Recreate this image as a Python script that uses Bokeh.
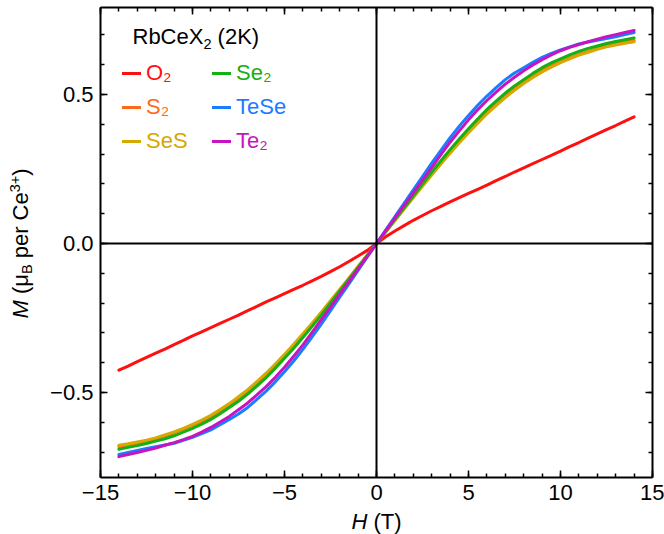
import math
from bokeh.plotting import figure
from bokeh.models import (Range1d, LinearAxis, SingleIntervalTicker, CustomJSTickFormatter,
                          Label, Legend, LegendItem)
from bokeh.embed import file_html
from bokeh.resources import INLINE

# ---------------- data ----------------
field_T = [-14.0, -13.5, -13.0, -12.5, -12.0, -11.5, -11.0, -10.5, -10.0, -9.5, -9.0, -8.5, -8.0, -7.5,
           -7.0, -6.5, -6.0, -5.5, -5.0, -4.5, -4.0, -3.5, -3.0, -2.5, -2.0, -1.5, -1.0, -0.5, 0.0,
           0.5, 1.0, 1.5, 2.0, 2.5, 3.0, 3.5, 4.0, 4.5, 5.0, 5.5, 6.0, 6.5, 7.0,
           7.5, 8.0, 8.5, 9.0, 9.5, 10.0, 10.5, 11.0, 11.5, 12.0, 12.5, 13.0, 13.5, 14.0]

M_O2 = [-0.425, -0.411, -0.396, -0.382, -0.368, -0.354, -0.339, -0.325, -0.310, -0.296, -0.282, -0.268, -0.254, -0.240,
        -0.225, -0.211, -0.196, -0.182, -0.168, -0.154, -0.140, -0.125, -0.110, -0.094, -0.078, -0.060, -0.042, -0.023, 0.0,
        0.023, 0.042, 0.060, 0.078, 0.094, 0.110, 0.125, 0.140, 0.154, 0.168, 0.182, 0.196, 0.211, 0.225,
        0.240, 0.254, 0.268, 0.282, 0.296, 0.310, 0.325, 0.339, 0.354, 0.368, 0.382, 0.396, 0.411, 0.425]
M_S2 = [-0.681, -0.676, -0.670, -0.664, -0.655, -0.645, -0.635, -0.623, -0.610, -0.596, -0.580, -0.562, -0.542, -0.519,
        -0.495, -0.468, -0.440, -0.409, -0.376, -0.342, -0.307, -0.270, -0.233, -0.195, -0.156, -0.117, -0.078, -0.039, 0.0,
        0.039, 0.078, 0.117, 0.156, 0.195, 0.233, 0.270, 0.307, 0.342, 0.376, 0.409, 0.440, 0.468, 0.495,
        0.519, 0.542, 0.562, 0.580, 0.596, 0.610, 0.623, 0.635, 0.645, 0.655, 0.664, 0.670, 0.676, 0.681]
M_SeS = [-0.677, -0.672, -0.666, -0.660, -0.652, -0.642, -0.632, -0.620, -0.607, -0.592, -0.576, -0.557, -0.537, -0.514,
         -0.490, -0.463, -0.435, -0.404, -0.372, -0.338, -0.303, -0.267, -0.230, -0.192, -0.154, -0.116, -0.077, -0.039, 0.0,
         0.039, 0.077, 0.116, 0.154, 0.192, 0.230, 0.267, 0.303, 0.338, 0.372, 0.404, 0.435, 0.463, 0.490,
         0.514, 0.537, 0.557, 0.576, 0.592, 0.607, 0.620, 0.632, 0.642, 0.652, 0.660, 0.666, 0.672, 0.677]
M_Se2 = [-0.690, -0.684, -0.678, -0.671, -0.663, -0.655, -0.645, -0.633, -0.620, -0.606, -0.590, -0.571, -0.550, -0.529,
         -0.505, -0.478, -0.450, -0.418, -0.385, -0.351, -0.315, -0.278, -0.240, -0.200, -0.160, -0.120, -0.080, -0.040, 0.0,
         0.040, 0.080, 0.120, 0.160, 0.200, 0.240, 0.278, 0.315, 0.351, 0.385, 0.418, 0.450, 0.478, 0.505,
         0.529, 0.550, 0.571, 0.590, 0.606, 0.620, 0.633, 0.645, 0.655, 0.663, 0.671, 0.678, 0.684, 0.690]
M_TeSe = [-0.708, -0.701, -0.694, -0.688, -0.682, -0.676, -0.670, -0.660, -0.650, -0.638, -0.625, -0.608, -0.590, -0.572,
          -0.550, -0.523, -0.495, -0.464, -0.430, -0.394, -0.355, -0.313, -0.270, -0.225, -0.180, -0.135, -0.090, -0.045, 0.0,
          0.045, 0.090, 0.135, 0.180, 0.225, 0.270, 0.313, 0.355, 0.394, 0.430, 0.464, 0.495, 0.523, 0.550,
          0.572, 0.590, 0.608, 0.625, 0.638, 0.650, 0.660, 0.670, 0.676, 0.682, 0.688, 0.694, 0.701, 0.708]
M_Te2 = [-0.715, -0.708, -0.701, -0.694, -0.686, -0.677, -0.668, -0.658, -0.647, -0.633, -0.617, -0.599, -0.580, -0.558,
         -0.535, -0.508, -0.480, -0.449, -0.415, -0.378, -0.340, -0.298, -0.255, -0.213, -0.170, -0.128, -0.085, -0.043, 0.0,
         0.043, 0.085, 0.128, 0.170, 0.213, 0.255, 0.298, 0.340, 0.378, 0.415, 0.449, 0.480, 0.508, 0.535,
         0.558, 0.580, 0.599, 0.617, 0.633, 0.647, 0.658, 0.668, 0.677, 0.686, 0.694, 0.701, 0.708, 0.715]

series_names = ["O\u2082", "S\u2082", "SeS", "Se\u2082", "TeSe", "Te\u2082"]
series_values = [M_O2, M_S2, M_SeS, M_Se2, M_TeSe, M_Te2]
series_colors = ["#ff1010", "#ff6a1a", "#d6a800", "#14b014", "#1a7cff", "#c814c0"]

x_limits = (-15.0, 15.0)
y_limits = (-0.785, 0.792)
x_ticks_interval = 5
y_ticks_interval = 0.5

# ---------------- layout ----------------
W, HGT = 664, 534
FL, FR, FT, FB = 100, 12, 7, 57          # where the axes box sits inside the canvas
X0, X1 = x_limits
Y0, Y1 = y_limits
FW = W - FL - FR
FH = HGT - FT - FB


def fx(px):
    return X0 + (px - FL) * (X1 - X0) / FW


def fy(py):
    return Y1 - (py - FT) * (Y1 - Y0) / FH


FONT = "Liberation Sans"
FS = 22
BASE_K = 0.38   # measured offset of Label's baseline in this renderer, per px of font size

# the frame fills the whole canvas; the box axes are pinned with fixed_location
p = figure(width=W, height=HGT, output_backend="svg", toolbar_location=None,
           x_range=Range1d(fx(0), fx(W)), y_range=Range1d(fy(HGT), fy(0)),
           min_border_left=0, min_border_right=0, min_border_top=0, min_border_bottom=0)
p.grid.visible = False
p.outline_line_color = None
p.background_fill_color = "white"
p.border_fill_color = "white"

fmt_x = CustomJSTickFormatter(code="return tick.toFixed(0).replace('-', '\\u2212');")
fmt_y = CustomJSTickFormatter(code="return tick.toFixed(1).replace('-', '\\u2212');")
fmt_none = CustomJSTickFormatter(code="return '';")


def style_axis(ax, ticker, fmt, labels=True, ticks=True):
    ax.ticker = ticker
    ax.formatter = fmt
    ax.axis_line_width = 2
    ax.axis_line_color = "black"
    ax.major_tick_in = 7
    ax.major_tick_out = 0
    ax.minor_tick_in = 4
    ax.minor_tick_out = 0
    ax.major_tick_line_width = 1.5
    ax.minor_tick_line_width = 1.5
    ax.major_tick_line_color = "black" if ticks else None
    ax.minor_tick_line_color = "black" if ticks else None
    ax.major_label_text_font = FONT
    ax.major_label_text_font_size = f"{FS}px"
    ax.major_label_text_color = "black"
    ax.major_label_standoff = 7 if labels else 0


def x_ticker():
    return SingleIntervalTicker(interval=x_ticks_interval, num_minor_ticks=5)


def y_ticker():
    return SingleIntervalTicker(interval=y_ticks_interval, num_minor_ticks=5)


bottom_ax = p.xaxis[0]
style_axis(bottom_ax, x_ticker(), fmt_x)
bottom_ax.fixed_location = Y0
bottom_ax.bounds = (X0, X1)

left_ax = p.yaxis[0]
style_axis(left_ax, y_ticker(), fmt_y)
left_ax.fixed_location = X0
left_ax.bounds = (Y0, Y1)

top_ax = LinearAxis(fixed_location=Y1, bounds=(X0, X1))
style_axis(top_ax, x_ticker(), fmt_none, labels=False)
p.add_layout(top_ax, "above")

right_ax = LinearAxis(fixed_location=X1, bounds=(Y0, Y1))
style_axis(right_ax, y_ticker(), fmt_none, labels=False)
p.add_layout(right_ax, "right")

# zero lines (H = 0 and M = 0) as bare axis lines
zero_v = LinearAxis(fixed_location=0, bounds=(Y0, Y1))
style_axis(zero_v, y_ticker(), fmt_none, labels=False, ticks=False)
p.add_layout(zero_v, "left")
zero_h = LinearAxis(fixed_location=0, bounds=(X0, X1))
style_axis(zero_h, x_ticker(), fmt_none, labels=False, ticks=False)
p.add_layout(zero_h, "below")

renderers = []
for name, vals, col in zip(series_names, series_values, series_colors):
    r = p.line(field_T, vals, line_color=col, line_width=3, line_join="round", line_cap="round")
    renderers.append(r)

# legend: two columns of three, one legend per entry so each label keeps its colour
row_centers = [75, 108.5, 142.5]
col_x = [122, 212]
for i, (name, r, col) in enumerate(zip(series_names, renderers, series_colors)):
    c, rr = divmod(i, 3)
    yc = row_centers[rr]
    leg = Legend(items=[LegendItem(label=name, renderers=[r])],
                 location=(col_x[c], HGT - (yc + 11)),
                 padding=0, margin=0, spacing=0,
                 glyph_width=19, glyph_height=22, label_height=22, label_standoff=5,
                 label_text_font=FONT, label_text_font_size=f"{FS}px", label_text_color=col,
                 border_line_color=None, background_fill_alpha=0)
    p.add_layout(leg)


def add_text(px, py, text, size=FS, style="normal"):
    # (px, py): start of the baseline, in canvas pixels
    p.add_layout(Label(x=fx(px), y=fy(py - BASE_K * size), text=text,
                       text_font=FONT, text_font_size=f"{size}px", text_font_style=style,
                       text_color="black", text_align="left", text_baseline="alphabetic"))


def add_vtext(px, py, text, size=FS, style="normal"):
    # rotated 90 degrees, reading upward; px is the baseline, py the start
    p.add_layout(Label(x=fx(px - BASE_K * size), y=fy(py), text=text, angle=math.pi / 2,
                       text_font=FONT, text_font_size=f"{size}px", text_font_style=style,
                       text_color="black", text_align="left", text_baseline="alphabetic"))


# title "RbCeX2 (2K)"
tx, ty = 132, 44
add_text(tx, ty, "RbCeX")
add_text(tx + 70.9, ty + 5, "2", size=14.5)
add_text(tx + 85.1, ty, "(2K)")

# x axis label: H (T)
add_text(351, 529, "H", style="italic")
add_text(373, 529, "(T)")

# y axis label: M (μB per Ce3+)
bx, by = 28.5, 318
add_vtext(bx, by, "M", style="italic")
add_vtext(bx, by - 24.4, "(\u03bc")
add_vtext(bx + 4, by - 44.4, "B", size=14.5)
add_vtext(bx, by - 60.2, "per")
add_vtext(bx, by - 98.1, "Ce")
add_vtext(bx - 8, by - 126.2, "3+", size=14.5)
add_vtext(bx, by - 142.7, ")")

open("out.html", "w").write(file_html(p, INLINE))
